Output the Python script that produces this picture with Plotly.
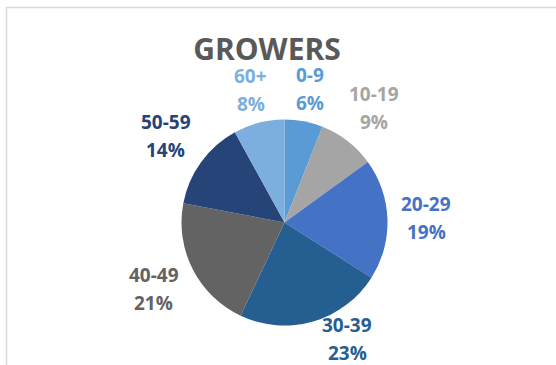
import math
import plotly.graph_objects as go

# Age bands of growers and their share (%)
age_bands = ["0-9", "10-19", "20-29", "30-39", "40-49", "50-59", "60+"]
shares = [6, 9, 19, 23, 21, 14, 8]
slice_colors = ["#5B9BD5", "#A5A5A5", "#4472C4", "#255E91", "#636363", "#264478", "#7CAFDD"]

W, H = 556, 365

# Pie placement (pixels)
CX, CY, R = 284.5, 222.5, 103.0
LABEL_SIZE = 19
LINE_GAP = 14    # half the distance between the two label lines
CHAR_W = 5.3     # approx half-width of one label character
BOX_HH = 20      # approx half-height of a two-line label
GAP = 12         # space between pie edge and label box
BOTTOM_PAD = 26  # keep the lower label line inside the chart

fig = go.Figure(
    go.Pie(
        labels=age_bands,
        values=shares,
        sort=False,
        direction="clockwise",
        rotation=0,
        marker=dict(colors=slice_colors, line=dict(width=0)),
        textinfo="none",
        showlegend=False,
        hoverinfo="label+percent",
        domain=dict(x=[(CX - R) / W, (CX + R) / W], y=[(H - CY - R) / H, (H - CY + R) / H]),
    )
)

# Outside labels: placed along each slice's mid-angle, box edge just outside the rim
annotations = []
total = sum(shares)
cum = 0
for band, val, col in zip(age_bands, shares, slice_colors):
    mid = (cum + val / 2) / total * 2 * math.pi
    cum += val
    dx, dy = math.sin(mid), -math.cos(mid)
    pct = f"{round(100 * val / total)}%"
    hw = CHAR_W * max(len(band), len(pct))
    hh = LINE_GAP + 4
    dist = R + GAP + hw * abs(dx) + hh * abs(dy)
    px = CX + dist * dx
    py = CY + dist * dy
    if py > H - BOTTOM_PAD:
        # pulled up to stay inside the chart: slide sideways until the box clears the rim
        py = H - BOTTOM_PAD
        near_y = abs(py - CY) - BOX_HH
        if near_y < R:
            clear_x = math.sqrt(R * R - near_y * near_y) + hw
            if abs(px - CX) < clear_x:
                px = CX + math.copysign(clear_x, dx)
    for txt, shift in ((band, LINE_GAP), (pct, -LINE_GAP)):
        annotations.append(
            dict(
                x=px / W, y=1 - py / H, xref="paper", yref="paper",
                text=f"<b>{txt}</b>", showarrow=False,
                xanchor="center", yanchor="middle", yshift=shift,
                font=dict(family="Open Sans", size=LABEL_SIZE, color=col),
            )
        )

fig.update_layout(
    width=W,
    height=H,
    margin=dict(l=0, r=0, t=0, b=0),
    paper_bgcolor="white",
    plot_bgcolor="white",
    title=dict(
        text="<b>GROWERS</b>",
        x=267 / W,
        xanchor="center",
        y=1 - 49 / H,
        yanchor="middle",
        font=dict(family="Open Sans", size=30, color="#595959"),
    ),
    annotations=annotations,
    shapes=[
        dict(
            type="rect", xref="paper", yref="paper",
            x0=6.5 / W, x1=1.05, y0=-0.05, y1=1 - 7.5 / H,
            line=dict(color="#D9D9D9", width=1.5),
            fillcolor="rgba(0,0,0,0)",
        )
    ],
)

fig.write_html("out.html")
